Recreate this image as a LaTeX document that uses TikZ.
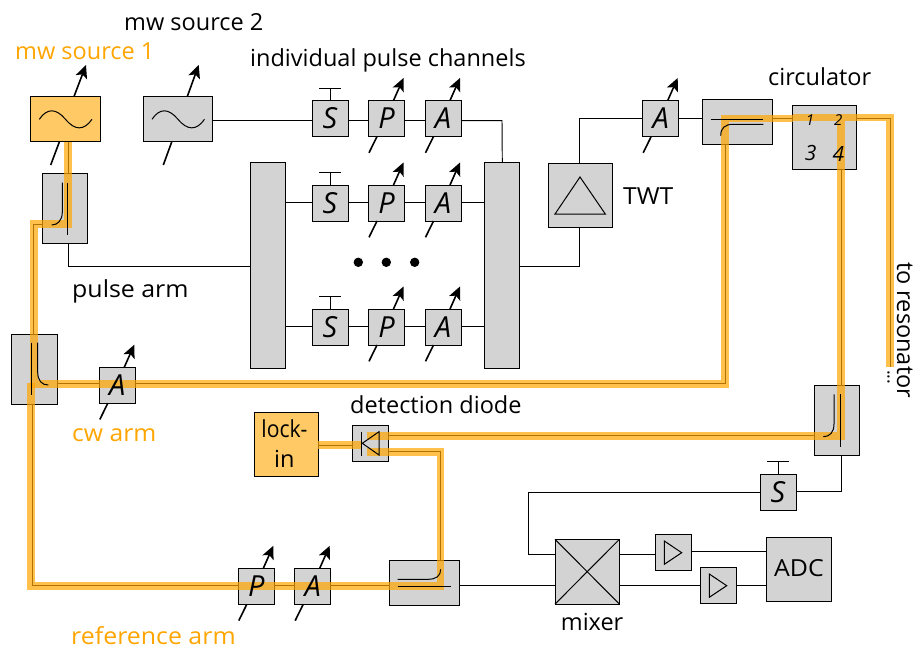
\documentclass[tikz,border=0pt]{standalone}
\usepackage{fontspec}
\setmainfont{Open Sans}
\usetikzlibrary{arrows.meta}
\definecolor{boxgray}{HTML}{D3D3D3}
\definecolor{mworange}{HTML}{FFA500}
\tikzset{
  x=1pt,y=-1pt,
  boxn/.style={draw=black,fill=boxgray,line width=1pt,inner sep=0pt,outer sep=0pt,minimum width=#1},
  boxn/.default=36pt,
  orbox/.style={draw=black,fill=mworange!60,line width=1pt,inner sep=0pt,outer sep=0pt},
  wire/.style={draw=black,line width=.95pt,line join=miter},
  band/.style={draw=mworange,draw opacity=.7,line width=7.6pt,line cap=butt,line join=miter},
  inner/.style={draw=black,line width=1pt},
  tune/.style={draw=black,line width=1.6pt,-{Stealth[length=13pt,width=12pt,inset=3pt]}},
  stub/.style={draw=black,line width=1.6pt},
  lab/.style={font=\fontsize{23.5}{26}\selectfont,anchor=base west,inner sep=0pt,text=black},
  olab/.style={lab,text=mworange},
  sym/.style={font=\fontsize{29}{32}\selectfont\itshape,inner sep=0pt,text=black},
}
\newcommand{\smbox}[2]{\node[boxn,minimum height=36pt] (#1) at #2 {};}
\newcommand{\tuned}[1]{%
  \draw[tune] ([shift={(7,-18)}]#1.center) -- ([shift={(17,-40.5)}]#1.center);
  \draw[stub] ([shift={(-9.5,18)}]#1.center) -- ([shift={(-17.5,34.3)}]#1.center);}
\newcommand{\tbar}[1]{%
  \draw[inner] (#1.north) -- ++(0,-12.4) ++(-11,0) -- ++(22,0);}
\begin{document}
\begin{tikzpicture}
\useasboundingbox (0,0) rectangle (916,646);
% boxes
\node[orbox,minimum width=69.6pt,minimum height=45.3pt] (src1) at (65.5,119.3) {};
\node[boxn,minimum width=69.6pt,minimum height=45.3pt] (src2) at (178,119.3) {};
\node[boxn,minimum width=45.3pt,minimum height=69.7pt] (cpa) at (65.3,208.8) {};
\node[boxn,minimum width=45.6pt,minimum height=70.3pt] (cpb) at (34.5,369.2) {};
\node[boxn,minimum width=69.7pt,minimum height=45pt] (cpe) at (737.2,121.5) {};
\node[boxn,minimum width=45.3pt,minimum height=69.6pt] (cpc) at (837.3,420.5) {};
\node[boxn,minimum width=69.7pt,minimum height=45.3pt] (cpd) at (424.2,583.3) {};
\node[boxn,minimum width=35.3pt,minimum height=206pt] (split) at (268.3,265.3) {};
\node[boxn,minimum width=35.3pt,minimum height=206pt] (comb) at (502.3,265.3) {};
\smbox{sa}{(330,118.5)}\smbox{pa}{(386.5,118.5)}\smbox{aa}{(443,118.5)}
\smbox{sb}{(330,203)}\smbox{pb}{(386.5,203)}\smbox{ab}{(443,203)}
\smbox{sc}{(330,327)}\smbox{pc}{(386.5,327)}\smbox{ac}{(443,327)}
\node[boxn,minimum width=64.3pt,minimum height=64.4pt] (twt) at (580.2,195.5) {};
\smbox{atw}{(660.7,118.5)}
\node[boxn,minimum width=64.3pt,minimum height=64pt] (circ) at (824.8,137.7) {};
\smbox{acw}{(117.3,385.2)}
\smbox{diode}{(370.3,443.8)}
\node[orbox,minimum width=64pt,minimum height=64pt] (lock) at (286.3,444) {};
\smbox{pref}{(256.3,586.3)}\smbox{aref}{(312.7,586.3)}
\smbox{sdet}{(778,492.2)}
\node[boxn,minimum width=64.3pt,minimum height=64.7pt] (mix) at (587.2,571.7) {};
\smbox{ampa}{(673,552.7)}\smbox{ampb}{(718,585.7)}
\node[boxn,minimum width=65pt,minimum height=64pt] (adc) at (798.5,569) {};
% helper levels for the wires
\coordinate (ya) at (0,120.7);
\coordinate (yb) at (0,202.7);
\coordinate (yc) at (0,326);
\coordinate (ymid) at (0,266);
\coordinate (yat) at (0,118.7);
\coordinate (yrt) at (0,118.3);
\coordinate (ydet) at (0,435);
\coordinate (yref) at (0,451.7);
\coordinate (ylk) at (0,445);
\coordinate (ycw) at (0,383.5);
\coordinate (yra) at (0,585.7);
\coordinate (yup) at (0,554.7);
\coordinate (ylo) at (0,585.3);
\coordinate (yad) at (0,551);
\coordinate (ysd) at (0,492);
\coordinate (ysr) at (0,491);
\coordinate (xa) at (68,0);
\coordinate (xb) at (33.3,0);
\coordinate (xc) at (32,0);
\coordinate (xd) at (725,0);
\coordinate (xe) at (841,0);
\coordinate (xf) at (890,0);
\coordinate (xg) at (440,0);
\coordinate (xh) at (502,0);
\coordinate (xi) at (579.3,0);
\coordinate (xj) at (528,0);
\coordinate (endres) at (890,367);
% wires
\draw[wire] (xa |- src1.south) -- (xa |- cpa.north);
\draw[wire] (xa |- cpa.south) -- (xa |- ymid) -- (split.west |- ymid);
\draw[wire] (cpa.west |- 0,224) -- (xb |- 0,224) -- (xb |- cpb.north);
\draw[wire] (cpb.east |- ycw) -- (acw.west |- ycw);
\draw[wire] (acw.east |- ycw) -- (xd |- ycw) -- (xd |- cpe.south);
\draw[wire] (xc |- cpb.south) -- (xc |- yra) -- (pref.west |- yra);
\draw[wire] (pref.east |- yra) -- (aref.west |- yra);
\draw[wire] (aref.east |- yra) -- (cpd.west |- yra);
\draw[wire] (xg |- cpd.north) -- (xg |- yref) -- (diode.east |- yref);
\draw[wire] (cpc.west |- ydet) -- (diode.east |- ydet);
\draw[wire] (lock.east |- ylk) -- (diode.west |- ylk);
\draw[wire] (xe |- circ.south) -- (xe |- cpc.north);
\draw[wire] (circ.east |- yrt) -- (xf |- yrt) -- (endres);
\draw[wire] (cpe.east |- yat) -- (circ.west |- yat);
\draw[wire] (src2.east |- ya) -- (sa.west |- ya);
\draw[wire] (sa.east |- ya) -- (pa.west |- ya);
\draw[wire] (pa.east |- ya) -- (aa.west |- ya);
\draw[wire] (aa.east |- ya) -- (xh |- ya) -- (comb.north);
\draw[wire] (split.east |- yb) -- (sb.west |- yb);
\draw[wire] (sb.east |- yb) -- (pb.west |- yb);
\draw[wire] (pb.east |- yb) -- (ab.west |- yb);
\draw[wire] (ab.east |- yb) -- (comb.west |- yb);
\draw[wire] (split.east |- yc) -- (sc.west |- yc);
\draw[wire] (sc.east |- yc) -- (pc.west |- yc);
\draw[wire] (pc.east |- yc) -- (ac.west |- yc);
\draw[wire] (ac.east |- yc) -- (comb.west |- yc);
\draw[wire] (comb.east |- ymid) -- (xi |- ymid) -- (xi |- twt.south);
\draw[wire] (xi |- twt.north) -- (xi |- yat) -- (atw.west |- yat);
\draw[wire] (atw.east |- yat) -- (cpe.west |- yat);
\draw[wire] (cpd.east |- yra) -- (mix.west |- yra);
\draw[wire] (mix.west |- yup) -- (xj |- yup) -- (xj |- ysd) -- (sdet.west |- ysd);
\draw[wire] (sdet.east |- ysr) -- (xe |- ysr) -- (xe |- cpc.south);
\draw[wire] (mix.east |- yup) -- (ampa.west |- yup);
\draw[wire] (ampa.east |- yad) -- (adc.west |- yad);
\draw[wire] (mix.east |- ylo) -- (ampb.west |- ylo);
\draw[wire] (ampb.east |- ylo) -- (adc.west |- ylo);
% microwave paths
\draw[band] (68,142) -- (68,224) -- (34,224) -- (34,384) -- (725,384) -- (725,118.5) -- (793,118.5);
\draw[band] (793,117.5) -- (890,117.5) -- (890,367);
\draw[band] (841,121.3) -- (841,436) -- (367,436);
\draw[band] (31,383) -- (31,586) -- (440.5,586) -- (440.5,452) -- (367,452);
\draw[band] (lock.east |- ylk) -- (362,445);
% inner symbols
\draw[inner] (39.3,119.3) .. controls (47,108) and (56,108) .. (65.5,119.3) .. controls (75,130.7) and (84,130.7) .. (92,119.3);
\draw[inner] (152,119.3) .. controls (159.5,108) and (168.5,108) .. (178,119.3) .. controls (187.5,130.7) and (196.5,130.7) .. (204.5,119.3);
\draw[inner] (67.7,182.7) -- (67.7,235);
\draw[inner] (62.3,182.7) -- (62.3,212) .. controls (62.3,220) and (58,225) .. (51.7,225);
\draw[inner] (31.7,342.7) -- (31.7,395.3);
\draw[inner] (37.7,342.7) -- (37.7,372) .. controls (37.7,381) and (42,385) .. (48.3,385);
\draw[inner] (840,394.3) -- (840,446.7);
\draw[inner] (834,394.3) -- (834,424) .. controls (834,432) and (830,436.7) .. (823.3,436.7);
\draw[inner] (397.7,586) -- (450.7,586);
\draw[inner] (397.7,579.3) -- (428,579.3) .. controls (436,579.3) and (440.7,576) .. (440.7,569.3);
\draw[inner] (710.7,119) -- (763.3,119);
\draw[inner] (763.3,124.3) -- (733,124.3) .. controls (725,124.3) and (720.7,128) .. (720.7,135.7);
\draw[inner] (580,177) -- (555,214) -- (605.3,214) -- cycle;
\draw[inner] (361.7,431.7) -- (361.7,456);
\draw[inner] (379,431.7) -- (362.3,443.3) -- (379,455) -- cycle;
\draw[inner] (mix.north west) -- (mix.south east);
\draw[inner] (mix.north east) -- (mix.south west);
\draw[inner] (664.3,541) -- (664.3,564.3) -- (681.7,552.7) -- cycle;
\draw[inner] (709.3,574) -- (709.3,597.3) -- (726.7,585.7) -- cycle;
\tbar{sa}\tbar{sb}\tbar{sc}\tbar{sdet}
\fill[black] (358.3,262.3) circle[radius=4.7] (386.3,262.3) circle[radius=4.7] (414.7,262.3) circle[radius=4.7];
% tuning arrows
\draw[tune] (74,96.5) -- (86,65);
\draw[stub] (59.3,142) -- (50.7,165);
\draw[tune] (187.3,96.5) -- (198.7,65);
\draw[stub] (171.7,142) -- (163.3,165);
\tuned{pa}\tuned{aa}\tuned{pb}\tuned{ab}\tuned{pc}\tuned{ac}\tuned{atw}\tuned{acw}\tuned{pref}\tuned{aref}
% box letters
\foreach \n/\t in {sa/S,pa/P,aa/A,sb/S,pb/P,ab/A,sc/S,pc/P,ac/A,atw/A,acw/A,pref/P,aref/A,sdet/S}{
  \node[sym] (t\n) at (\n.center) {\t};
}
\node[sym,font=\fontsize{15}{16}\selectfont\itshape] (c1) at (810,120) {1};
\node[sym,font=\fontsize{15}{16}\selectfont\itshape] (c2) at (838.3,120) {2};
\node[sym,font=\fontsize{21}{22}\selectfont\itshape] (c3) at (810.7,152.7) {3};
\node[sym,font=\fontsize{21}{22}\selectfont\itshape] (c4) at (838.3,154) {4};
% labels
\node[lab] (lsrc2) at (124,30) {mw source 2};
\node[olab] (lsrc1) at (15,59.5) {mw source 1};
\node[lab] (lind) at (250,66.7) {individual pulse channels};
\node[lab] (lcirc) at (768,85) {circulator};
\node[lab,xscale=1.05] (ltwt) at (623,204.3) {TWT};
\node[lab,xscale=1.06] (lpulse) at (72,297) {pulse arm};
\node[olab,xscale=1.05] (lcw) at (72,441.7) {cw arm};
\node[lab] (ldet) at (350,413) {detection diode};
\node[lab,anchor=base,xscale=.9] (llock) at (284.5,437) {lock-};
\node[lab,anchor=base] (lin) at (284.3,467.7) {in};
\node[olab,xscale=1.06] (lrefarm) at (71,644) {reference arm};
\node[lab] (lmix) at (560.7,630.7) {mixer};
\node[lab,anchor=base,xscale=1.06] (ladc) at (799,576.7) {ADC};
\node[lab,rotate=-90] (lres) at (897,262) {to resonator};
\node[lab,rotate=-90,font=\fontsize{18}{20}\selectfont] (ldots) at (887.5,370) {...};
\end{tikzpicture}
\end{document}
